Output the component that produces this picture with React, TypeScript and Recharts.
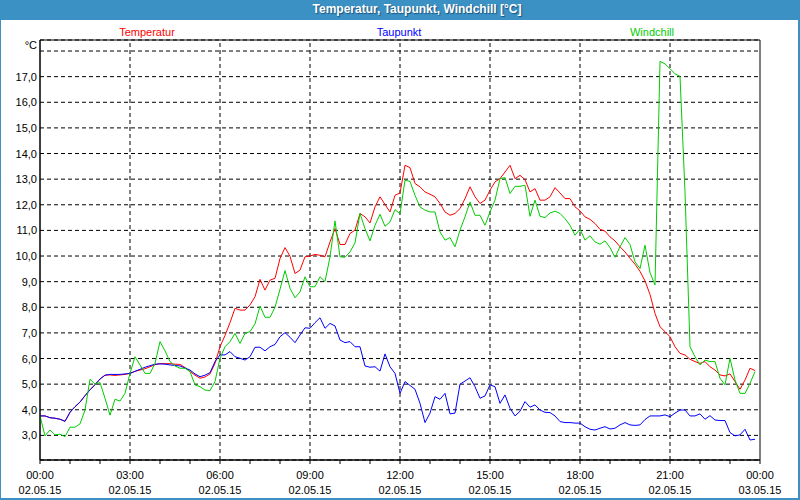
import React from "react";
import {
  LineChart,
  Line,
  XAxis,
  YAxis,
  CartesianGrid,
  ReferenceLine,
  ReferenceArea,
} from "recharts";

// 10-minute samples, 02.05.15 00:00 .. 23:50
const TEMPERATUR = [
  3.76, 3.76, 3.69, 3.67, 3.63, 3.55, 3.9, 4.12, 4.3, 4.55, 4.78, 4.98,
  5.2, 5.35, 5.36, 5.34, 5.36, 5.38, 5.42, 5.5, 5.55, 5.6, 5.68, 5.76,
  5.8, 5.8, 5.8, 5.78, 5.77, 5.65, 5.49, 5.35, 5.23, 5.28, 5.4, 5.81,
  6.46, 6.9, 7.4, 7.96, 7.89, 7.89, 8.09, 8.41, 9.09, 8.67, 9.06, 9.13,
  9.9, 10.33, 9.99, 9.32, 9.45, 9.97, 10.0, 10.06, 10.03, 9.97, 10.55, 11.07,
  10.45, 10.45, 10.88, 11.01, 11.66, 11.53, 11.29, 11.92, 12.31, 12.01, 11.72, 12.37,
  12.46, 13.54, 13.45, 12.83, 12.7, 12.5, 12.41, 12.31, 12.05, 11.72, 11.59, 11.66,
  11.85, 12.24, 12.7, 12.31, 12.05, 12.18, 12.57, 12.89, 13.02, 13.28, 13.54, 13.02,
  13.15, 12.98, 12.5, 12.63, 12.18, 12.18, 12.31, 12.67, 12.46, 12.24, 12.24, 11.92,
  11.76, 11.53, 11.43, 11.27, 11.04, 10.97, 10.75, 10.59, 10.36, 10.16, 9.91, 9.68,
  9.4, 9.03, 8.5, 7.76, 7.24, 7.05, 6.85, 6.46, 6.2, 6.14, 5.97, 5.88,
  5.81, 5.88, 5.68, 5.55, 5.36, 5.32, 5.4, 5.1, 4.8, 5.16, 5.62, 5.53,
];

const TAUPUNKT = [
  3.76, 3.76, 3.69, 3.67, 3.63, 3.55, 3.9, 4.12, 4.3, 4.55, 4.78, 4.98,
  5.2, 5.35, 5.38, 5.38, 5.38, 5.4, 5.42, 5.5, 5.58, 5.66, 5.72, 5.78,
  5.79, 5.78, 5.75, 5.73, 5.71, 5.63, 5.55, 5.4, 5.29, 5.35, 5.45, 5.88,
  6.14, 6.14, 6.27, 6.07, 6.01, 5.94, 6.07, 6.44, 6.44, 6.3, 6.46, 6.55,
  6.85, 7.01, 6.83, 6.62, 6.92, 7.2, 7.18, 7.4, 7.59, 7.18, 7.37, 7.27,
  6.72, 6.62, 6.66, 6.46, 6.46, 5.71, 5.66, 5.68, 5.51, 6.18, 5.68, 5.42,
  4.64, 5.1, 4.95, 4.8, 4.25, 3.5, 3.87, 4.51, 4.41, 4.64, 3.84, 3.87,
  5.0, 5.12, 5.25, 4.9, 4.45, 4.54, 4.97, 4.9, 4.25, 4.58, 4.06, 3.76,
  3.94, 4.32, 4.1, 4.19, 3.99, 3.9, 3.89, 3.76, 3.54, 3.5, 3.5, 3.48,
  3.48, 3.34, 3.24, 3.21, 3.28, 3.34, 3.25, 3.28, 3.41, 3.5, 3.41, 3.39,
  3.41, 3.62, 3.76, 3.76, 3.76, 3.8, 3.73, 3.87, 3.99, 3.99, 3.76, 3.76,
  3.84, 3.63, 3.77, 3.6, 3.58, 3.58, 3.11, 2.98, 3.02, 3.24, 2.82, 2.85,
];

const WINDCHILL = [
  3.76, 2.98, 3.21, 3.02, 3.05, 2.95, 3.32, 3.32, 3.45, 3.99, 5.19, 5.0,
  5.06, 4.45, 3.79, 4.41, 4.34, 4.64, 5.42, 6.07, 5.75, 5.42, 5.42, 5.81,
  6.66, 6.3, 5.88, 5.71, 5.62, 5.62, 5.49, 4.97, 4.9, 4.77, 4.75, 5.1,
  6.01, 6.46, 6.66, 6.98, 6.59, 6.98, 7.05, 7.35, 8.05, 7.61, 7.61, 8.0,
  8.7, 9.43, 8.74, 8.37, 8.6, 9.19, 8.8, 8.8, 9.19, 9.0, 9.97, 11.37,
  9.97, 9.95, 10.16, 10.51, 11.66, 11.07, 10.59, 11.2, 11.63, 11.16, 11.33, 11.81,
  11.65, 12.96, 12.91, 12.37, 11.92, 11.79, 11.72, 11.72, 10.94, 10.62, 10.72, 10.36,
  11.01, 11.53, 12.11, 11.59, 11.59, 11.2, 11.72, 12.18, 13.02, 13.06, 12.44, 12.72,
  12.72, 12.76, 11.55, 12.18, 11.55, 11.5, 11.68, 11.75, 11.66, 11.46, 11.2, 10.81,
  11.05, 10.62, 10.79, 10.55, 10.46, 10.59, 10.33, 9.95, 10.36, 10.72, 10.45, 9.77,
  9.51, 10.42, 9.35, 8.87, 17.6, 17.5, 17.31, 17.11, 17.01, 12.5, 6.46, 6.07,
  5.75, 5.94, 5.88, 5.88, 5.23, 4.97, 6.01, 5.16, 4.64, 4.64, 5.03, 5.49,
];

const X_TICKS = [0, 60, 120, 180, 240, 300, 360, 420, 480, 540, 600, 660, 720, 780, 840, 900, 960, 1020, 1080, 1140, 1200, 1260, 1320, 1380, 1440];
const X_GRID = [180, 360, 540, 720, 900, 1080, 1260];
const Y_TICKS = [3, 4, 5, 6, 7, 8, 9, 10, 11, 12, 13, 14, 15, 16, 17, 18];
const Y_MIN = 2.04;
const Y_MAX = 18.43;

const data = TEMPERATUR.map((v, i) => ({
  t: i * 10,
  temp: v,
  dew: TAUPUNKT[i],
  wind: WINDCHILL[i],
}));

const FONT = "'Liberation Sans', Arial, sans-serif";
const FRAME = "#3c91c4";

const YTick = ({ x, y, payload }: any) => {
  if (payload.value === 18) {
    return (
      <text x={x} y={y - 2} textAnchor="end" fontSize={11} fontFamily={FONT} fill="#000">
        °C
      </text>
    );
  }
  return (
    <text x={x} y={y + 4} textAnchor="end" fontSize={11} fontFamily={FONT} fill="#000">
      {payload.value.toFixed(1).replace(".", ",")}
    </text>
  );
};

const XTick = ({ x, y, payload }: any) => {
  const v = payload.value;
  if (v % 180 !== 0) return null;
  const h = (v / 60) % 24;
  const time = (h < 10 ? "0" : "") + h + ":00";
  const day = v < 1440 ? "02.05.15" : "03.05.15";
  return (
    <g>
      <text x={x} y={y + 15} textAnchor="middle" fontSize={11} fontFamily={FONT} fill="#000">
        {time}
      </text>
      <text x={x} y={y + 30} textAnchor="middle" fontSize={11} fontFamily={FONT} fill="#000">
        {day}
      </text>
    </g>
  );
};

const legendStyle = (color: string, center: number): React.CSSProperties => ({
  position: "absolute",
  top: 26,
  left: center - 60,
  width: 120,
  textAlign: "center",
  fontFamily: FONT,
  fontSize: 11,
  color,
});

export default function App() {
  return (
    <div
      style={{
        position: "absolute",
        left: 0,
        top: 0,
        width: 800,
        height: 500,
        background: FRAME,
        overflow: "hidden",
      }}
    >
      <div
        style={{
          position: "absolute",
          left: 1,
          top: 20,
          width: 797,
          height: 478,
          background: "#fff",
        }}
      />
      <div
        style={{
          position: "absolute",
          left: 0,
          top: 2,
          width: 834,
          textAlign: "center",
          color: "#fff",
          fontFamily: FONT,
          fontWeight: "bold",
          fontSize: 12,
          textShadow: "1px 1px 1px rgba(0,40,80,0.6)",
        }}
      >
        Temperatur, Taupunkt, Windchill [°C]
      </div>
      <div style={legendStyle("#ff0000", 147)}>Temperatur</div>
      <div style={legendStyle("#0000ff", 399)}>Taupunkt</div>
      <div style={legendStyle("#00cc00", 652)}>Windchill</div>
      <div style={{ position: "absolute", left: 0, top: 0 }}>
        <LineChart
          width={800}
          height={500}
          data={data}
          margin={{ top: 40, right: 40, bottom: 0, left: 0 }}
        >
          <CartesianGrid vertical={false} stroke="#000" strokeDasharray="4 3" />
          <XAxis
            dataKey="t"
            type="number"
            domain={[0, 1440]}
            ticks={X_TICKS}
            interval={0}
            height={40}
            tickSize={4}
            tickMargin={0}
            stroke="#000"
            tick={<XTick />}
          />
          <YAxis
            type="number"
            domain={[Y_MIN, Y_MAX]}
            ticks={Y_TICKS}
            interval={0}
            allowDataOverflow
            width={40}
            tickSize={0}
            tickMargin={3}
            tickLine={false}
            stroke="#000"
            tick={<YTick />}
          />
          {X_GRID.map((g) => (
            <ReferenceLine key={g} x={g} stroke="#000" strokeDasharray="4 3" />
          ))}
          <ReferenceArea
            x1={0}
            x2={1440}
            y1={Y_MIN}
            y2={Y_MAX}
            fill="none"
            fillOpacity={0}
            stroke="#000"
            strokeOpacity={1}
          />
          <Line type="linear" dataKey="temp" stroke="#ff0000" strokeWidth={1} dot={false} isAnimationActive={false} />
          <Line type="linear" dataKey="dew" stroke="#0000ff" strokeWidth={1} dot={false} isAnimationActive={false} />
          <Line type="linear" dataKey="wind" stroke="#00cc00" strokeWidth={1} dot={false} isAnimationActive={false} />
        </LineChart>
      </div>
    </div>
  );
}
